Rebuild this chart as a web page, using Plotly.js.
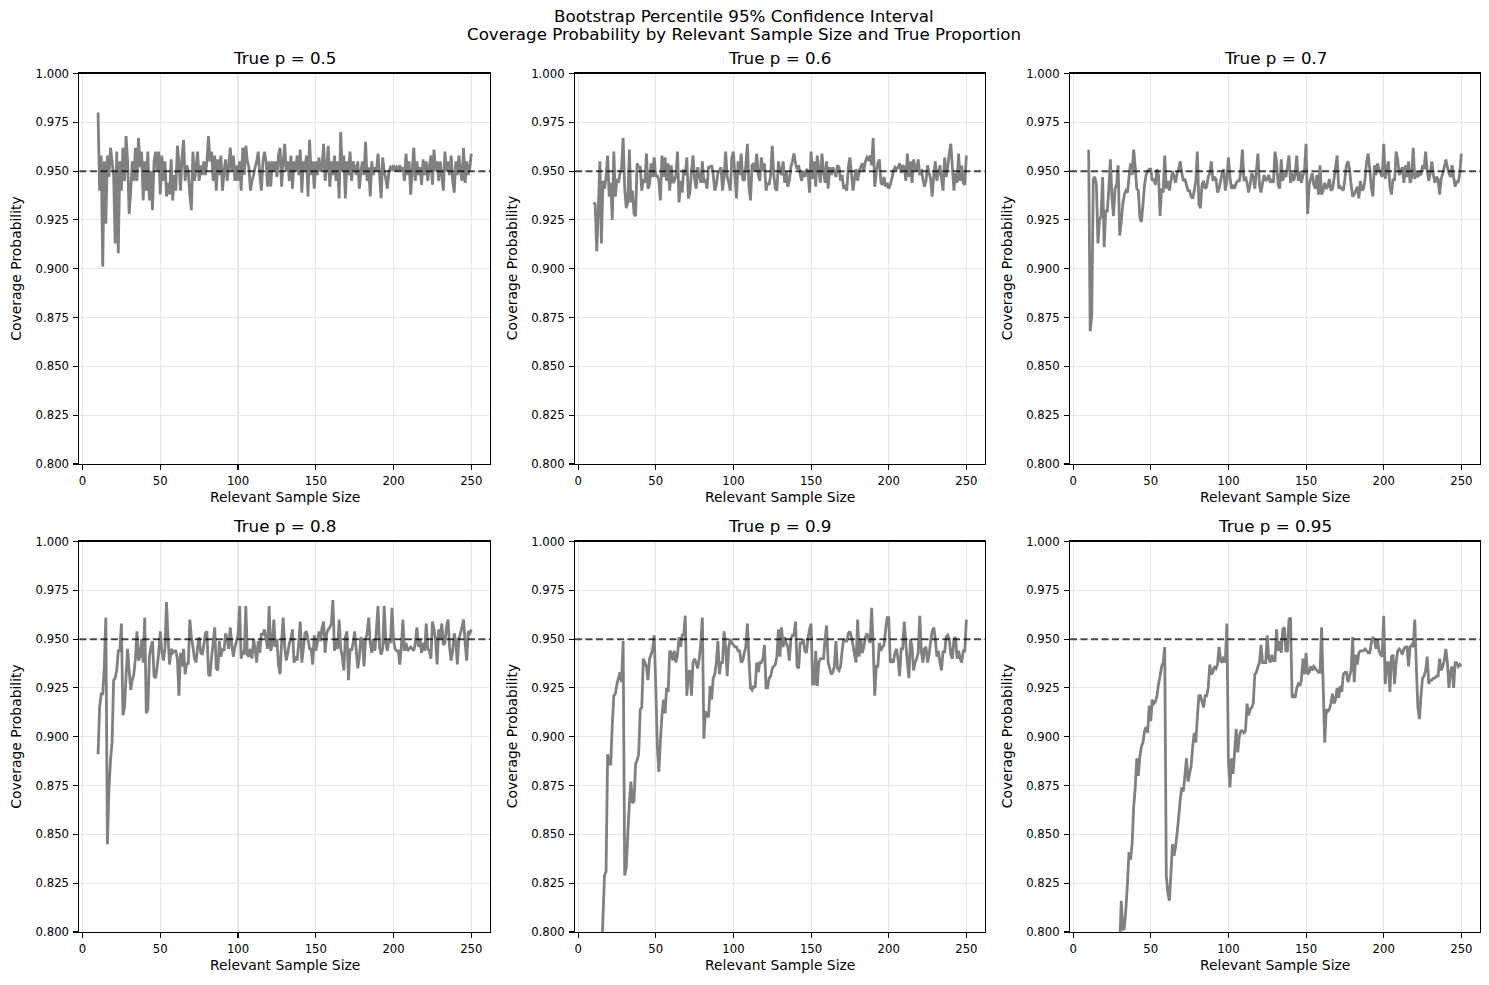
<!DOCTYPE html>
<html><head><meta charset="utf-8">
<script src="https://cdn.plot.ly/plotly-3.0.1.min.js"></script>
<style>html,body{margin:0;padding:0;background:#fff}#chart{width:1489px;height:985px}</style>
</head><body><div id="chart"></div>
<script>
// Relevant sample sizes (x categories)
const sampleSizes = [
 10,11,12,13,14,15,16,17,18,19, 20,21,22,23,24,25,26,27,28,29,
 30,31,32,33,34,35,36,37,38,39, 40,41,42,43,44,45,46,47,48,49,
 50,51,52,53,54,55,56,57,58,59, 60,61,62,63,64,65,66,67,68,69,
 70,71,72,73,74,75,76,77,78,79, 80,81,82,83,84,85,86,87,88,89,
 90,91,92,93,94,95,96,97,98,99, 100,101,102,103,104,105,106,107,108,109,
 110,111,112,113,114,115,116,117,118,119, 120,121,122,123,124,125,126,127,128,129,
 130,131,132,133,134,135,136,137,138,139, 140,141,142,143,144,145,146,147,148,149,
 150,151,152,153,154,155,156,157,158,159, 160,161,162,163,164,165,166,167,168,169,
 170,171,172,173,174,175,176,177,178,179, 180,181,182,183,184,185,186,187,188,189,
 190,191,192,193,194,195,196,197,198,199, 200,201,202,203,204,205,206,207,208,209,
 210,211,212,213,214,215,216,217,218,219, 220,221,222,223,224,225,226,227,228,229,
 230,231,232,233,234,235,236,237,238,239, 240,241,242,243,244,245,246,247,248,249,
 250];

const trueProportions = ['0.5', '0.6', '0.7', '0.8', '0.9', '0.95'];

const coverage_p050 = [
 .980,.940,.958,.901,.955,.923,.958,.947,.962,.955,
 .948,.913,.960,.908,.955,.940,.962,.945,.968,.955,
 .928,.940,.955,.945,.962,.945,.967,.952,.960,.935,
 .955,.940,.960,.935,.950,.930,.955,.960,.950,.960,
 .938,.958,.945,.955,.937,.944,.938,.956,.935,.948,
 .940,.963,.955,.940,.957,.966,.945,.953,.950,.938,
 .930,.960,.945,.952,.960,.945,.953,.948,.955,.948,
 .955,.968,.955,.960,.945,.958,.940,.956,.948,.958,
 .940,.950,.956,.945,.952,.962,.950,.958,.945,.953,
 .945,.955,.940,.962,.948,.963,.955,.952,.940,.945,
 .948,.952,.955,.960,.948,.940,.955,.960,.955,.942,
 .955,.942,.955,.950,.955,.947,.958,.962,.942,.955,
 .964,.950,.955,.945,.958,.941,.955,.950,.958,.948,
 .961,.939,.955,.950,.958,.937,.966,.948,.955,.941,
 .955,.948,.957,.950,.952,.964,.945,.952,.963,.942,
 .955,.948,.958,.945,.955,.936,.970,.950,.958,.936,
 .955,.948,.960,.945,.955,.952,.948,.955,.941,.950,
 .955,.948,.965,.945,.952,.937,.955,.948,.952,.950,
 .959,.948,.936,.957,.950,.946,.941,.950,.952,.951,
 .953,.950,.952,.951,.953,.950,.952,.945,.959,.948,
 .955,.938,.950,.962,.945,.955,.948,.952,.943,.956,
 .948,.955,.945,.952,.958,.943,.961,.950,.955,.945,
 .955,.948,.940,.960,.950,.955,.948,.958,.945,.939,
 .955,.948,.958,.950,.945,.962,.944,.955,.948,.952,
 .959];

const coverage_p060 = [
 .934,.933,.909,.930,.955,.913,.945,.941,.947,.958,
 .937,.944,.925,.960,.937,.946,.944,.949,.952,.967,
 .941,.931,.934,.961,.934,.940,.928,.927,.954,.952,
 .952,.940,.946,.944,.959,.941,.943,.954,.947,.957,
 .947,.948,.945,.935,.958,.947,.957,.945,.954,.940,
 .953,.944,.945,.948,.960,.934,.945,.939,.951,.948,
 .957,.936,.939,.950,.958,.946,.941,.952,.948,.944,
 .955,.944,.946,.941,.952,.952,.953,.948,.940,.943,
 .949,.950,.952,.940,.947,.960,.947,.944,.940,.957,
 .960,.947,.936,.955,.948,.959,.946,.945,.953,.964,
 .942,.935,.953,.954,.950,.959,.948,.945,.957,.950,
 .954,.940,.944,.943,.948,.963,.948,.941,.940,.955,
 .950,.948,.955,.944,.950,.942,.945,.952,.955,.959,
 .954,.951,.953,.948,.945,.950,.947,.951,.950,.939,
 .960,.946,.955,.942,.958,.951,.944,.959,.950,.944,
 .955,.941,.952,.948,.952,.950,.947,.953,.952,.945,
 .948,.941,.942,.940,.952,.957,.949,.940,.946,.951,
 .945,.950,.952,.954,.950,.955,.957,.956,.958,.953,
 .967,.942,.949,.954,.956,.944,.943,.947,.942,.944,
 .941,.943,.946,.950,.952,.951,.952,.954,.949,.953,
 .952,.945,.959,.947,.955,.944,.956,.952,.950,.956,
 .948,.951,.946,.942,.945,.953,.949,.946,.937,.948,
 .955,.945,.949,.953,.946,.940,.957,.947,.952,.959,
 .964,.952,.940,.949,.944,.959,.945,.953,.944,.943,
 .958];

const coverage_p070 = [
 .961,.868,.876,.946,.947,.943,.913,.925,.927,.947,
 .911,.930,.929,.941,.956,.937,.927,.941,.943,.953,
 .917,.924,.933,.938,.940,.939,.947,.954,.948,.961,
 .952,.941,.940,.926,.924,.933,.943,.948,.950,.951,
 .951,.945,.946,.943,.951,.948,.927,.941,.939,.958,
 .941,.945,.940,.945,.950,.947,.944,.949,.951,.955,
 .949,.945,.946,.943,.940,.940,.937,.936,.940,.945,
 .960,.933,.931,.943,.945,.941,.942,.947,.949,.955,
 .945,.947,.946,.939,.941,.945,.949,.951,.940,.945,
 .957,.947,.941,.943,.941,.944,.945,.945,.950,.961,
 .945,.947,.944,.939,.943,.949,.947,.941,.950,.959,
 .943,.939,.944,.948,.945,.946,.948,.944,.946,.944,
 .960,.955,.943,.941,.956,.945,.949,.947,.952,.958,
 .944,.949,.945,.948,.958,.945,.950,.944,.948,.950,
 .964,.928,.943,.946,.949,.943,.941,.948,.938,.953,
 .938,.940,.944,.941,.942,.946,.940,.941,.946,.952,
 .958,.941,.942,.941,.940,.946,.953,.955,.951,.943,
 .937,.938,.940,.942,.936,.945,.940,.941,.946,.955,
 .959,.951,.942,.937,.953,.948,.954,.951,.949,.947,
 .964,.946,.951,.955,.942,.938,.946,.945,.960,.956,
 .948,.950,.952,.944,.953,.947,.955,.944,.947,.962,
 .946,.950,.947,.949,.948,.953,.951,.960,.950,.945,
 .949,.955,.948,.944,.947,.946,.938,.946,.949,.952,
 .956,.952,.949,.947,.953,.947,.942,.945,.944,.949,
 .959];

const coverage_p080 = [
 .891,.915,.922,.922,.936,.961,.845,.873,.888,.897,
 .929,.930,.934,.944,.944,.958,.911,.915,.931,.945,
 .934,.924,.929,.932,.940,.954,.939,.941,.950,.938,
 .961,.912,.914,.941,.946,.949,.931,.930,.936,.943,
 .954,.944,.939,.945,.969,.950,.937,.945,.943,.944,
 .944,.940,.921,.943,.936,.945,.932,.938,.937,.960,
 .951,.946,.940,.938,.946,.951,.943,.942,.947,.953,
 .954,.932,.931,.941,.948,.956,.935,.934,.949,.941,
 .945,.944,.953,.950,.945,.956,.947,.941,.946,.949,
 .952,.967,.940,.944,.942,.967,.942,.941,.945,.940,
 .950,.945,.938,.949,.943,.953,.952,.955,.950,.945,
 .967,.944,.947,.960,.946,.950,.937,.932,.948,.961,
 .946,.939,.943,.948,.950,.955,.938,.941,.939,.948,
 .959,.938,.945,.953,.954,.950,.945,.945,.937,.952,
 .944,.948,.954,.949,.956,.959,.943,.953,.955,.956,
 .958,.970,.944,.950,.945,.960,.945,.941,.934,.951,
 .954,.929,.945,.944,.948,.954,.944,.935,.941,.951,
 .949,.936,.950,.953,.961,.948,.943,.950,.944,.955,
 .967,.946,.942,.945,.967,.948,.944,.950,.948,.966,
 .949,.945,.944,.944,.937,.946,.960,.944,.948,.944,
 .945,.946,.945,.944,.948,.956,.946,.950,.943,.948,
 .944,.958,.945,.944,.940,.959,.955,.950,.937,.955,
 .950,.958,.947,.948,.956,.960,.946,.939,.944,.953,
 .949,.937,.950,.953,.956,.960,.948,.939,.954,.953,
 .955];

const coverage_p090 = [
 .660,.690,.720,.745,.765,.785,.807,.829,.831,.891,
 .886,.886,.906,.921,.922,.927,.930,.933,.928,.949,
 .829,.833,.850,.866,.877,.866,.867,.886,.888,.891,
 .914,.915,.940,.938,.936,.929,.940,.942,.945,.952,
 .926,.895,.882,.898,.911,.919,.912,.925,.923,.944,
 .943,.939,.944,.938,.942,.951,.946,.952,.952,.962,
 .921,.933,.934,.921,.938,.940,.938,.935,.940,.948,
 .961,.899,.913,.911,.910,.926,.919,.930,.932,.938,
 .949,.932,.938,.938,.954,.946,.931,.946,.950,.948,
 .947,.946,.946,.944,.944,.938,.939,.943,.946,.958,
 .940,.925,.924,.926,.925,.938,.933,.938,.938,.940,
 .947,.925,.925,.930,.931,.935,.936,.937,.941,.955,
 .941,.956,.946,.951,.948,.946,.939,.950,.952,.952,
 .959,.936,.935,.948,.948,.950,.944,.943,.950,.955,
 .958,.927,.927,.944,.926,.938,.940,.940,.940,.950,
 .957,.938,.935,.932,.933,.936,.949,.935,.934,.936,
 .944,.950,.949,.949,.953,.954,.951,.947,.942,.938,
 .960,.941,.950,.943,.946,.951,.953,.950,.948,.966,
 .947,.921,.936,.936,.948,.944,.946,.947,.955,.961,
 .961,.938,.939,.938,.943,.945,.940,.931,.945,.945,
 .959,.948,.938,.930,.950,.946,.934,.938,.940,.943,
 .962,.944,.938,.945,.946,.938,.942,.949,.954,.956,
 .950,.941,.944,.938,.934,.944,.943,.951,.952,.950,
 .942,.940,.950,.951,.940,.944,.940,.938,.944,.944,
 .960];

const coverage_p095 = [
 .560,.600,.575,.620,.640,.610,.655,.670,.650,.690,
 .700,.685,.715,.730,.720,.745,.755,.740,.770,.780,
 .792,.816,.801,.802,.812,.825,.841,.837,.845,.864,
 .874,.889,.880,.890,.895,.897,.903,.905,.902,.916,
 .908,.919,.917,.918,.921,.927,.931,.936,.938,.946,
 .829,.820,.816,.830,.845,.839,.844,.851,.859,.868,
 .874,.872,.880,.889,.877,.881,.885,.895,.902,.897,
 .910,.921,.921,.918,.915,.921,.921,.925,.937,.932,
 .933,.936,.935,.937,.946,.939,.938,.941,.938,.958,
 .888,.874,.889,.881,.892,.904,.892,.900,.903,.903,
 .902,.903,.917,.911,.914,.915,.917,.932,.933,.936,
 .938,.947,.938,.938,.938,.952,.940,.938,.942,.939,
 .939,.955,.944,.949,.943,.955,.956,.944,.944,.960,
 .961,.920,.921,.920,.925,.927,.926,.929,.940,.932,
 .943,.932,.933,.936,.934,.936,.935,.934,.933,.933,
 .956,.927,.897,.914,.913,.914,.917,.922,.917,.919,
 .925,.920,.926,.923,.932,.933,.933,.928,.931,.934,
 .951,.928,.942,.937,.943,.944,.944,.944,.945,.944,
 .943,.943,.948,.951,.950,.945,.950,.944,.942,.941,
 .962,.927,.938,.938,.923,.941,.942,.927,.938,.944,
 .945,.944,.942,.945,.946,.946,.936,.946,.947,.946,
 .960,.936,.915,.909,.921,.930,.931,.934,.941,.927,
 .929,.929,.930,.930,.931,.931,.940,.934,.936,.939,
 .945,.938,.925,.933,.936,.925,.938,.938,.936,.937,
 .936];

const targetCoverage = 0.95;
const xTickValues = [0, 50, 100, 150, 200, 250];
const yTickValues = [0.800, 0.825, 0.850, 0.875, 0.900, 0.925, 0.950, 0.975, 1.000];

const seriesList = [coverage_p050, coverage_p060, coverage_p070, coverage_p080, coverage_p090, coverage_p095];

const FONT = 'DejaVu Sans, Verdana, sans-serif';
const W = 1489, H = 985;
// panel pixel boxes (left,right) and (top,bottom)
const colPx = [[79.4, 490], [575, 985], [1070, 1480]];
const rowPx = [[73.5, 464], [541.5, 932]];

const traces = [];
const layout = {
  width: W, height: H,
  margin: {l: 0, r: 0, t: 0, b: 0, pad: 0},
  paper_bgcolor: '#ffffff', plot_bgcolor: '#ffffff',
  showlegend: false,
  font: {family: FONT, size: 11.7, color: '#000'},
  shapes: [], annotations: []
};

function ann(text, xpx, ypx, size, angle) {
  return {text: text, xref: 'paper', yref: 'paper', x: xpx / W, y: 1 - ypx / H,
    xanchor: 'center', yanchor: 'middle', showarrow: false, textangle: angle || 0,
    font: {family: FONT, size: size, color: '#000'}};
}

seriesList.forEach(function (vals, i) {
  const r = Math.floor(i / 3), c = i % 3;
  const sfx = i === 0 ? '' : String(i + 1);
  const [l, rr] = colPx[c];
  const [t, b] = rowPx[r];
  traces.push({
    type: 'scatter', mode: 'lines', x: sampleSizes, y: vals,
    xaxis: 'x' + sfx, yaxis: 'y' + sfx,
    line: {color: '#808080', width: 2.8, simplify: false},
    hoverinfo: 'x+y'
  });
  const common = {
    ticks: 'outside', ticklen: 4.9, tickwidth: 1.1, tickcolor: '#000',
    showline: true, linecolor: '#000', linewidth: 1.1, mirror: true,
    showgrid: true, gridcolor: '#e7e7e7', gridwidth: 1.1, zeroline: false,
    tickfont: {family: FONT, size: 11.7, color: '#000'}, fixedrange: true
  };
  layout['xaxis' + sfx] = Object.assign({}, common, {
    domain: [l / W, rr / W], anchor: 'y' + sfx,
    range: [-2, 262], tickmode: 'array', tickvals: xTickValues, ticklabelstandoff: 1
  });
  layout['yaxis' + sfx] = Object.assign({}, common, {
    domain: [1 - b / H, 1 - t / H], anchor: 'x' + sfx,
    range: [0.8, 1.0], tickmode: 'array', tickvals: yTickValues, tickformat: '.3f',
    ticklabelstandoff: 2
  });
  layout.shapes.push({
    type: 'line', xref: 'x' + sfx + ' domain', yref: 'y' + sfx,
    x0: 0, x1: 1, y0: targetCoverage, y1: targetCoverage,
    line: {color: 'rgba(0,0,0,0.7)', width: 2, dash: '7px,3.5px'}, layer: 'above'
  });
  const cx = (l + rr) / 2, cy = (t + b) / 2;
  layout.annotations.push(ann('True p = ' + trueProportions[i], cx, t - 15.5, 16.7));
  layout.annotations.push(ann('Relevant Sample Size', cx, b + 33, 13.9));
  layout.annotations.push(ann('Coverage Probability', l - 63.5, cy, 13.9, -90));
});

layout.annotations.push(ann('Bootstrap Percentile 95% Confidence Interval', 744, 16, 16.7));
layout.annotations.push(ann('Coverage Probability by Relevant Sample Size and True Proportion', 744, 33.5, 16.7));

Plotly.newPlot('chart', traces, layout, {displayModeBar: false, staticPlot: true});
</script>
</body></html>
